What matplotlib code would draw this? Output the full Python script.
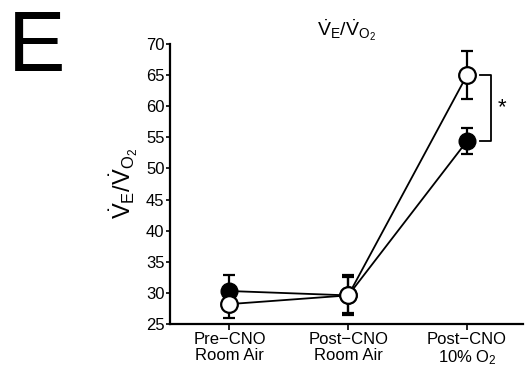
import matplotlib
matplotlib.use("Agg")
import matplotlib.pyplot as plt

plt.rcParams['font.family'] = ['Liberation Sans', 'DejaVu Sans']
plt.rcParams['mathtext.fontset'] = 'custom'
plt.rcParams['mathtext.rm'] = 'Liberation Sans'
plt.rcParams['mathtext.it'] = 'Liberation Sans'

categories = ['Pre\u2212CNO\nRoom Air', 'Post\u2212CNO\nRoom Air', 'Post\u2212CNO\n10% O$_2$']
filled_mean = [30.3, 29.6, 54.4]
filled_err = [2.5, 3.2, 2.1]
open_mean = [28.2, 29.6, 65.0]
open_err = [2.3, 2.9, 3.8]
yticks = [25, 30, 35, 40, 45, 50, 55, 60, 65, 70]

fig = plt.figure(figsize=(5.25, 3.72), dpi=100)
ax = fig.add_axes([0.324, 0.129, 0.672, 0.753])
x = list(range(len(categories)))

ax.errorbar(x, filled_mean, yerr=filled_err, fmt='-o', color='black', mfc='black',
            mec='black', ms=12, lw=1.3, elinewidth=1.6, capsize=4, capthick=1.6, zorder=3)
ax.errorbar(x, open_mean, yerr=open_err, fmt='-o', color='black', mfc='white',
            mec='black', mew=1.6, ms=12, lw=1.3, elinewidth=1.6, capsize=4, capthick=1.6, zorder=4)

ax.set_xlim(-0.5, 2.47)
ax.set_ylim(25, 70)
ax.set_yticks(yticks)
ax.set_xticks(x)
ax.set_xticklabels(categories, fontsize=12, linespacing=1.05)
ax.tick_params(axis='y', labelsize=12, length=3, width=1.2, pad=1)
ax.tick_params(axis='x', length=4, width=1.2, pad=2)
for s in ['top', 'right']:
    ax.spines[s].set_visible(False)
for s in ['left', 'bottom']:
    ax.spines[s].set_linewidth(1.6)

# significance bracket
bx0, bx1 = 2.11, 2.2
ax.plot([bx0, bx1, bx1, bx0], [open_mean[2], open_mean[2], filled_mean[2], filled_mean[2]],
        color='black', lw=1.3, clip_on=False)
ax.text(2.29, (open_mean[2] + filled_mean[2]) / 2, '*', fontsize=16, ha='center', va='center')

ax.set_title(r'$\dot{V}_E/\dot{V}_{O_2}$', fontsize=14, pad=6)
ax.set_ylabel(r'$\dot{V}_E/\dot{V}_{O_2}$', fontsize=17, labelpad=4)

fig.text(0.015, 0.975, 'E', fontsize=62, ha='left', va='top')

fig.savefig('out.png', dpi=100)
